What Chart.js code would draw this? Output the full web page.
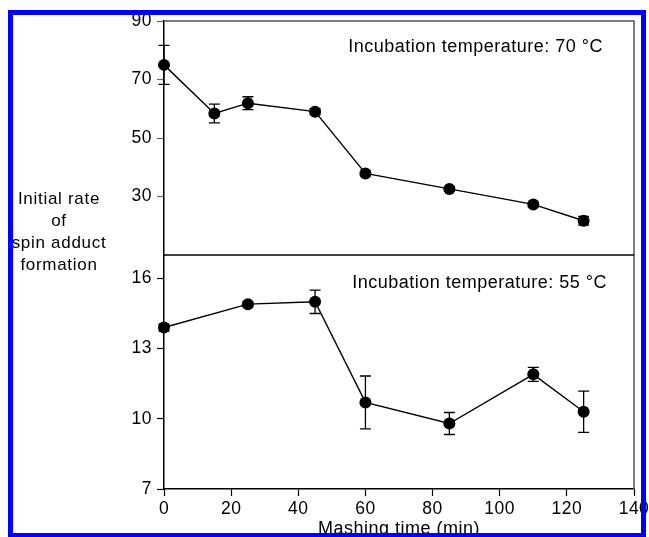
<!DOCTYPE html>
<html>
<head>
<meta charset="utf-8">
<script src="https://cdn.jsdelivr.net/npm/chart.js@4.4.0/dist/chart.umd.min.js"></script>
<style>
  html, body { margin: 0; padding: 0; background: #fff; }
  #wrap { position: relative; width: 649px; height: 537px; overflow: hidden; }
  #frame { position: absolute; left: 8px; top: 10px; width: 638px; height: 528px;
           border: 5px solid #0000ff; box-sizing: border-box; pointer-events: none; }
</style>
</head>
<body>
<div id="wrap">
  <canvas id="chart" width="649" height="537"></canvas>
  <div id="frame"></div>
</div>
<script>
// mashing time (min) and rates
const time70 = [0, 15, 25, 45, 60, 85, 110, 125];
const rate70 = [75, 58.4, 61.9, 59, 37.9, 32.6, 27.3, 21.7];
const err70 = [6.7, 3.2, 2.2, 1.0, 0.8, 0.8, 0.8, 1.5];

const time55 = [0, 25, 45, 60, 85, 110, 125];
const rate55 = [13.9, 14.9, 15.0, 10.7, 9.8, 11.9, 10.3];
const err55 = [0.15, 0.1, 0.5, 1.13, 0.47, 0.3, 0.88];

const xTicks = [0, 20, 40, 60, 80, 100, 120, 140];
const ticks70 = [30, 50, 70, 90];
const ticks55 = [7, 10, 13, 16];

const title70 = "Incubation temperature: 70 °C";
const title55 = "Incubation temperature: 55 °C";
const yLabel = ["Initial rate", "of", "spin adduct", "formation"];
const xLabel = "Mashing time (min)";

const FONT = "'Liberation Sans', Arial, Helvetica, sans-serif";
const errs = [err70, err55];

const panelPlugin = {
  id: "panels",
  beforeDraw(chart) {
    chart.ctx.letterSpacing = "0.5px";
  },
  beforeDatasetsDraw(chart) {
    const ctx = chart.ctx;
    const area = chart.chartArea;
    const yTop = chart.scales.y70;
    ctx.save();
    // box edges
    ctx.lineWidth = 1.5;
    ctx.strokeStyle = "#555";
    ctx.beginPath();
    ctx.moveTo(area.left, area.top);
    ctx.lineTo(area.right, area.top);
    ctx.lineTo(area.right, area.bottom);
    ctx.stroke();
    ctx.strokeStyle = "#000";
    ctx.beginPath();
    ctx.moveTo(area.left, yTop.bottom);
    ctx.lineTo(area.right, yTop.bottom);
    ctx.stroke();

    // error bars
    ctx.lineWidth = 1.3;
    chart.data.datasets.forEach((ds, i) => {
      const ys = chart.scales[ds.yAxisID];
      const xs = chart.scales.x;
      ds.data.forEach((p, j) => {
        const e = errs[i][j];
        const px = xs.getPixelForValue(p.x);
        const hi = ys.getPixelForValue(p.y + e);
        const lo = ys.getPixelForValue(p.y - e);
        ctx.beginPath();
        ctx.moveTo(px, hi); ctx.lineTo(px, lo);
        ctx.moveTo(px - 5.5, hi); ctx.lineTo(px + 5.5, hi);
        ctx.moveTo(px - 5.5, lo); ctx.lineTo(px + 5.5, lo);
        ctx.stroke();
      });
    });
    ctx.restore();
  },
  afterDraw(chart) {
    const ctx = chart.ctx;
    const area = chart.chartArea;
    const yTop = chart.scales.y70;
    const yBot = chart.scales.y55;
    ctx.save();
    ctx.fillStyle = "#000";
    ctx.font = "18px " + FONT;
    ctx.textBaseline = "middle";
    ctx.textAlign = "right";
    ctx.fillText(title70, area.right - 31, yTop.top + 26);
    ctx.fillText(title55, area.right - 27, yBot.top + 28);

    ctx.font = "17px " + FONT;
    ctx.letterSpacing = "0.7px";
    ctx.textAlign = "center";
    yLabel.forEach((line, k) => {
      ctx.fillText(line, 59, yTop.bottom - 56 + k * 22);
    });
    ctx.restore();
  }
};

const tickFont = { family: FONT, size: 17.5 };

function yScale(min, max, tickVals, tickColor) {
  return {
    type: "linear",
    position: "left",
    stack: "panels",
    stackWeight: 1,
    min: min,
    max: max,
    afterBuildTicks: s => { s.ticks = tickVals.map(v => ({ value: v })); },
    afterFit: s => { s.width = 164; s.paddingTop = 0; s.paddingBottom = 0; },
    grid: { drawOnChartArea: false, drawTicks: true, tickLength: 7, tickColor: tickColor, tickWidth: 1.2 },
    border: { display: true, color: "#000", width: 1.5 },
    ticks: { color: "#000", font: tickFont, padding: 5 }
  };
}

const ctx = document.getElementById("chart").getContext("2d");
new Chart(ctx, {
  type: "scatter",
  data: {
    datasets: [
      {
        data: time70.map((t, i) => ({ x: t, y: rate70[i] })),
        yAxisID: "y70",
        showLine: true,
        borderColor: "#000",
        borderWidth: 1.4,
        pointRadius: 6,
        pointBackgroundColor: "#000",
        pointBorderWidth: 0,
        clip: false
      },
      {
        data: time55.map((t, i) => ({ x: t, y: rate55[i] })),
        yAxisID: "y55",
        showLine: true,
        borderColor: "#000",
        borderWidth: 1.4,
        pointRadius: 6,
        pointBackgroundColor: "#000",
        pointBorderWidth: 0,
        clip: false
      }
    ]
  },
  options: {
    responsive: false,
    animation: false,
    devicePixelRatio: 1,
    layout: { padding: { top: 21, right: 15, left: 0, bottom: 0 } },
    plugins: { legend: { display: false }, tooltip: { enabled: false } },
    scales: {
      x: {
        type: "linear",
        min: 0,
        max: 140,
        afterBuildTicks: s => { s.ticks = xTicks.map(v => ({ value: v })); },
        afterFit: s => { s.height = 48; s.paddingLeft = 0; s.paddingRight = 0; },
        grid: { drawOnChartArea: false, drawTicks: true, tickLength: 7, tickColor: "#000", tickWidth: 1.2 },
        border: { display: true, color: "#000", width: 1.5 },
        ticks: { color: "#000", font: tickFont, padding: 3, maxRotation: 0, autoSkip: false },
        title: {
          display: true,
          text: xLabel,
          color: "#000",
          font: { family: FONT, size: 18, lineHeight: "16px" },
          padding: 0
        }
      },
      y55: yScale(7, 17, ticks55, "#000"),
      y70: yScale(10, 90, ticks70, "#666")
    }
  },
  plugins: [panelPlugin]
});
</script>
</body>
</html>
